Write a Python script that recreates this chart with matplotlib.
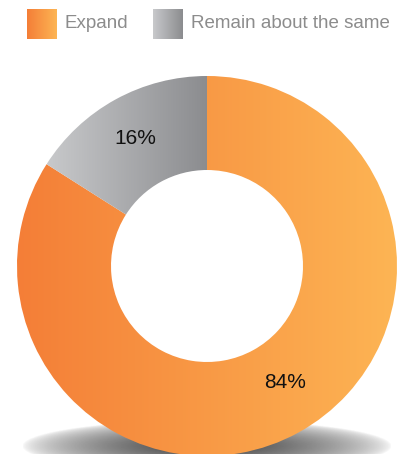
import numpy as np
import matplotlib
matplotlib.use('Agg')
import matplotlib.pyplot as plt
from matplotlib.colors import LinearSegmentedColormap

labels = ['Expand', 'Remain about the same']
values = [84, 16]
pct_labels = ['84%', '16%']
# left -> right gradient colours for each slice
grad_colors = [('#F47E37', '#FDB554'), ('#C8C9CB', '#8B8C8F')]

W, H = 401, 454
fig = plt.figure(figsize=(W / 100, H / 100), dpi=100)
ax = fig.add_axes([0, 0, 1, 1])
ax.axis('off')

cx, cy, R, r_in = 207, 266, 190, 96

# shadow under the donut
xs = np.linspace(-1, 1, 400)
ys = np.linspace(-1, 1, 80)
X, Y = np.meshgrid(xs, ys)
d = np.sqrt(X ** 2 + Y ** 2)
alpha = np.clip(1 - d, 0, 1) ** 0.6 * 0.95
shadow = np.zeros((80, 400, 4))
shadow[..., 3] = alpha
shadow[..., :3] = 0.2
ax.imshow(shadow, extent=(207 - 185, 207 + 185, 446 + 26, 446 - 26),
          interpolation='bilinear', zorder=1, aspect='auto')

# y axis is flipped (pixel coords), so angles run the other way
wedges, _ = ax.pie(values, startangle=-90, counterclock=True, center=(cx, cy), radius=R,
                   wedgeprops=dict(width=R - r_in, linewidth=0), frame=False)
ax.set_aspect('auto')

grad = np.linspace(0, 1, 256).reshape(1, -1)
for w, (c0, c1) in zip(wedges, grad_colors):
    w.set_facecolor('none')
    cmap = LinearSegmentedColormap.from_list('g', [c0, c1])
    path = w.get_path()
    xa, ya = path.vertices.min(axis=0)
    xb, yb = path.vertices.max(axis=0)
    im = ax.imshow(grad, cmap=cmap, extent=(xa, xb, yb, ya), aspect='auto', zorder=2,
                   interpolation='bilinear')
    im.set_clip_path(w)

ax.text(285, 383, pct_labels[0], ha='center', va='center', fontsize=15,
        family='Liberation Sans', color='#111111', zorder=3)
ax.text(135, 138, pct_labels[1], ha='center', va='center', fontsize=15,
        family='Liberation Sans', color='#111111', zorder=3)

# legend
leg_x = [27, 153]
for lx, lab, (c0, c1) in zip(leg_x, labels, grad_colors):
    cmap = LinearSegmentedColormap.from_list('g', [c0, c1])
    ax.imshow(grad, cmap=cmap, extent=(lx, lx + 30, 39, 9), aspect='auto', zorder=3)
    ax.text(lx + 38, 24, lab, ha='left', va='center', fontsize=13.5,
            family='Liberation Sans', color='#8C8C8C', zorder=3)

ax.set_xlim(0, W)
ax.set_ylim(H, 0)
fig.savefig('out.png', dpi=100)
